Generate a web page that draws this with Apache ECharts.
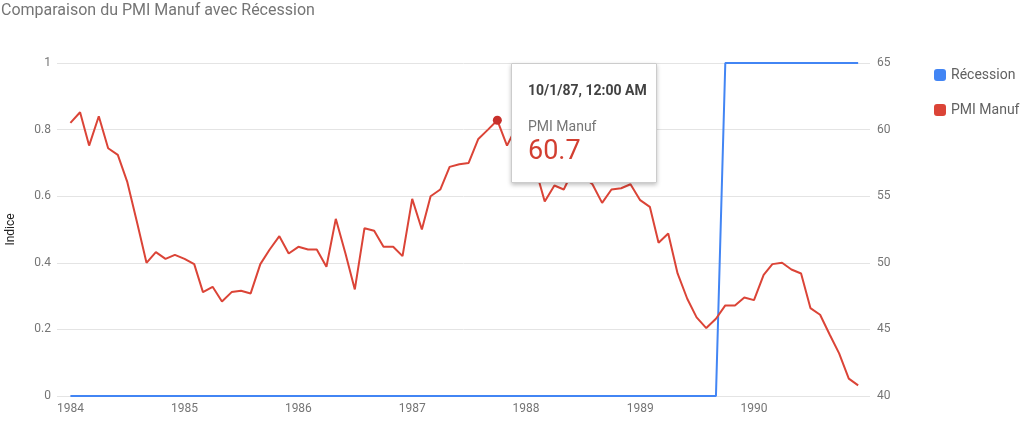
<!DOCTYPE html>
<html>
<head>
<meta charset="utf-8">
<script src="https://cdn.jsdelivr.net/npm/echarts@6/dist/echarts.min.js"></script>
<style>
  html, body { margin: 0; padding: 0; background: #fff; }
  #chart { width: 1024px; height: 423px; }
</style>
</head>
<body>
<div id="chart"></div>
<script>
// ---- Data ----
const startYear = 1984;
const monthCount = 84; // 1984-01 .. 1990-12
const months = [];
for (let i = 0; i < monthCount; i++) {
  months.push(Date.UTC(startYear + Math.floor(i / 12), i % 12, 1));
}

const recession = [
  0,0,0,0,0,0,0,0,0,0,0,0,
  0,0,0,0,0,0,0,0,0,0,0,0,
  0,0,0,0,0,0,0,0,0,0,0,0,
  0,0,0,0,0,0,0,0,0,0,0,0,
  0,0,0,0,0,0,0,0,0,0,0,0,
  0,0,0,0,0,0,0,0,0,1,1,1,
  1,1,1,1,1,1,1,1,1,1,1,1
];

const pmi = [
  60.5, 61.3, 58.8, 61.0, 58.6, 58.1, 56.1, 53.1, 50.0, 50.8, 50.3, 50.6,
  50.3, 49.9, 47.8, 48.2, 47.1, 47.8, 47.9, 47.7, 49.9, 51.0, 52.0, 50.7,
  51.2, 51.0, 51.0, 49.7, 53.3, 50.7, 48.0, 52.6, 52.4, 51.2, 51.2, 50.5,
  54.8, 52.5, 55.0, 55.5, 57.2, 57.4, 57.5, 59.3, 60.0, 60.7, 58.8, 60.2,
  59.0, 57.0, 54.6, 55.8, 55.5, 57.0, 56.5, 55.9, 54.5, 55.5, 55.6, 55.9,
  54.7, 54.2, 51.5, 52.2, 49.2, 47.3, 45.9, 45.1, 45.8, 46.8, 46.8, 47.4,
  47.2, 49.1, 49.9, 50.0, 49.5, 49.2, 46.6, 46.1, 44.6, 43.2, 41.3, 40.8
];

const seriesNames = ['Récession', 'PMI Manuf'];
const yearLabels = [1984, 1985, 1986, 1987, 1988, 1989, 1990];
const leftTicks = { min: 0, max: 1, interval: 0.2 };
const rightTicks = { min: 40, max: 65, interval: 5 };
const highlightIndex = 45;

// x-extent padding like the reference (grid extends beyond data)
const DAY = 24 * 3600 * 1000;
const xMin = months[0] - 43 * DAY;
const xMax = months[months.length - 1] + 38 * DAY;

const recData = months.map((t, i) => [t, recession[i]]);
const pmiData = months.map((t, i) => {
  if (i === highlightIndex) {
    return { value: [t, pmi[i]], symbol: 'circle', symbolSize: 9,
             itemStyle: { color: '#c8302b' } };
  }
  return [t, pmi[i]];
});

const chart = echarts.init(document.getElementById('chart'), null, { renderer: 'canvas' });

function fmtTipDate(t) {
  const d = new Date(t);
  const yy = String(d.getUTCFullYear()).slice(2);
  return (d.getUTCMonth() + 1) + '/' + d.getUTCDate() + '/' + yy + ', 12:00 AM';
}

const option = {
  animation: false,
  useUTC: true,
  textStyle: { fontFamily: 'Roboto, Arial, sans-serif' },
  title: {
    text: 'Comparaison du PMI Manuf avec Récession',
    left: 1, top: 3, padding: 0,
    textStyle: { fontSize: 16, fontWeight: 'normal', color: '#757575', fontFamily: 'Roboto' }
  },
  legend: {
    orient: 'vertical',
    left: 929, top: 63,
    itemWidth: 12, itemHeight: 12, itemGap: 21,
    icon: 'roundRect',
    data: seriesNames,
    textStyle: { fontSize: 14, color: '#616161', fontFamily: 'Roboto', padding: [0, 0, 0, 0] }
  },
  grid: { left: 57, right: 154, top: 63, bottom: 27, containLabel: false, outerBoundsMode: 'none' },
  tooltip: {
    trigger: 'item',
    triggerOn: 'none',
    alwaysShowContent: true,
    transitionDuration: 0,
    position: function () { return [511, 63]; },
    backgroundColor: '#fff',
    borderColor: '#cccccc',
    borderWidth: 1,
    borderRadius: 1,
    padding: [0, 0],
    extraCssText: 'box-shadow: 0 2px 4px rgba(0,0,0,0.25); width:146px; height:120px; box-sizing:border-box;',
    formatter: function (p) {
      const v = Array.isArray(p.value) ? p.value : p.data.value;
      return '<div style="padding:17px 16px 0 16px;font-family:Roboto;">' +
        '<div style="font-size:14px;font-weight:bold;color:#424242;line-height:18px;">' + fmtTipDate(v[0]) + '</div>' +
        '<div style="font-size:14px;color:#757575;margin-top:18px;line-height:18px;">' + p.seriesName + '</div>' +
        '<div style="font-size:27px;color:#d23f31;line-height:30px;margin-top:0px;">' + v[1].toFixed(1) + '</div>' +
        '</div>';
    }
  },
  xAxis: {
    type: 'time',
    min: xMin,
    max: xMax,
    minInterval: 365 * DAY,
    maxInterval: 366 * DAY,
    axisLine: { show: false },
    axisTick: { show: false },
    splitLine: { show: false },
    axisLabel: {
      fontSize: 12, color: '#757575', margin: 7, fontFamily: 'Roboto',
      showMinLabel: false, showMaxLabel: false,
      formatter: function (val) {
        const d = new Date(val);
        const y = d.getUTCFullYear();
        if (d.getUTCMonth() === 0 && d.getUTCDate() === 1 && yearLabels.indexOf(y) >= 0) return String(y);
        return '';
      }
    }
  },
  yAxis: [
    {
      type: 'value',
      min: leftTicks.min, max: leftTicks.max, interval: leftTicks.interval,
      name: 'Indice',
      nameLocation: 'middle',
      nameGap: 40,
      nameTextStyle: { fontSize: 12, color: '#222', fontFamily: 'Roboto' },
      axisLine: { show: false },
      axisTick: { show: false },
      axisLabel: { fontSize: 12, color: '#757575', margin: 6, fontFamily: 'Roboto' },
      splitLine: { show: true, lineStyle: { color: '#e4e4e4', width: 1 } }
    },
    {
      type: 'value',
      min: rightTicks.min, max: rightTicks.max, interval: rightTicks.interval,
      position: 'right',
      axisLine: { show: false },
      axisTick: { show: false },
      axisLabel: { fontSize: 12, color: '#757575', margin: 7, fontFamily: 'Roboto' },
      splitLine: { show: false }
    }
  ],
  series: [
    {
      name: seriesNames[0],
      type: 'line',
      yAxisIndex: 0,
      data: recData,
      symbol: 'none',
      color: '#4285f4',
      lineStyle: { width: 2, color: '#4285f4' },
      emphasis: { disabled: true }
    },
    {
      name: seriesNames[1],
      type: 'line',
      yAxisIndex: 1,
      data: pmiData,
      symbol: 'none',
      showSymbol: true,
      color: '#db4437',
      lineStyle: { width: 2, color: '#db4437' },
      emphasis: { disabled: true }
    }
  ]
};

chart.setOption(option);
chart.dispatchAction({ type: 'showTip', seriesIndex: 1, dataIndex: highlightIndex });
</script>
</body>
</html>
